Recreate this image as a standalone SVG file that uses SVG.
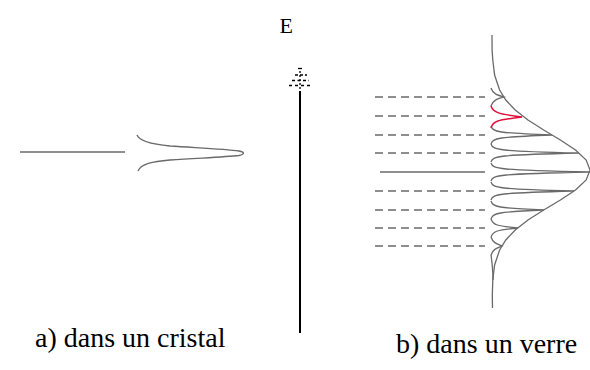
<svg xmlns="http://www.w3.org/2000/svg" width="590" height="370" viewBox="0 0 590 370">
<style>
.crv{fill:none;stroke:#6a6a6a;stroke-width:1.3}
.dash{fill:none;stroke:#6a6a6a;stroke-width:1.3;stroke-dasharray:8 5}
</style>
<rect width="590" height="370" fill="#fff"/>
<g id="crystal">
<line x1="20" y1="152" x2="125" y2="152" class="crv" stroke-width="1.5"/>
<path class="crv" d="M137,135 C139,141 150,144 170,146 C200,148 225,149 239,151 Q248,153 239,155.5 C225,157 200,158 170,160 C152,161.5 141,164 138,171"/>
</g>
<g id="axis">
<line x1="300" y1="91" x2="300" y2="333" stroke="#000" stroke-width="2"/>
<g stroke="#000" stroke-width="1.3" fill="none">
<line x1="298" y1="68.5" x2="302" y2="68.5"/>
<line x1="295" y1="75" x2="307" y2="75" stroke-dasharray="3 2"/>
<line x1="292" y1="80.5" x2="309" y2="80.5" stroke-dasharray="3 2.5"/>
<line x1="289" y1="85.5" x2="312" y2="85.5" stroke-dasharray="3 3"/>
<line x1="300" y1="71" x2="300" y2="91" stroke-dasharray="2 2"/>
</g>
<text x="279.5" y="33" font-size="22" font-family="Liberation Serif, DejaVu Serif, serif" fill="#000">E</text>
</g>
<g id="glass">
<g id="levels">
<line class="dash" x1="375" y1="97" x2="485" y2="97"/>
<line class="dash" x1="375" y1="116" x2="485" y2="116"/>
<line class="dash" x1="375" y1="135" x2="485" y2="135"/>
<line class="dash" x1="375" y1="153" x2="485" y2="153"/>
<line class="crv" x1="380" y1="172" x2="485" y2="172" stroke-width="1.5"/>
<line class="dash" x1="375" y1="191" x2="485" y2="191"/>
<line class="dash" x1="375" y1="210" x2="485" y2="210"/>
<line class="dash" x1="375" y1="228" x2="485" y2="228"/>
<line class="dash" x1="375" y1="246" x2="485" y2="246"/>
</g>
<path id="envelope" class="crv" d="M492,35 L492.1,50 L492.8,60 L494.6,75 L499.6,90 L505.8,100 L515.2,110 L528,120 L543.7,130 L560.4,140 L575.5,150 L586.2,160 L590,170 L586.2,180 L575.5,190 L560.4,200 L543.7,210 L528,220 L515.2,230 L505.8,240 L499.6,250 L494.6,265 L492.8,280 L492.3,295 L492.5,308"/>
<g id="peaks" class="crv">
<path d="M491,88 C493,94 497,95 504,97 C497,99 493,100 491,106"/>
<path d="M491,126 C493,132 497,133 552,135 C497,137 493,138 491,144"/>
<path d="M491,144 C493,150 497,151 579,153 C497,155 493,156 491,162"/>
<path d="M491,163 C493,169 497,170 590,172 C497,174 493,175 491,181"/>
<path d="M491,182 C493,188 497,189 574,191 C497,193 493,194 491,200"/>
<path d="M491,201 C493,207 497,208 544,210 C497,212 493,213 491,219"/>
<path d="M491,219 C493,225 497,226 518,228 C497,230 493,231 491,237"/>
<path d="M491,237 C493,243 497,244 502,246 C497,248 493,249 491,255"/>
<path d="M491,255 C492,262 493,270 493,280"/>
</g>
<path id="redpeak" fill="none" stroke="#e0103a" stroke-width="1.5" d="M491,106 C493,112 497,114 522,117 C497,120 493,121 491,128"/>
</g>
<text x="35" y="347" font-size="28" font-family="Liberation Serif, DejaVu Serif, serif" fill="#000">a) dans un cristal</text>
<text x="396" y="353" font-size="28" font-family="Liberation Serif, DejaVu Serif, serif" fill="#000">b) dans un verre</text>
</svg>
